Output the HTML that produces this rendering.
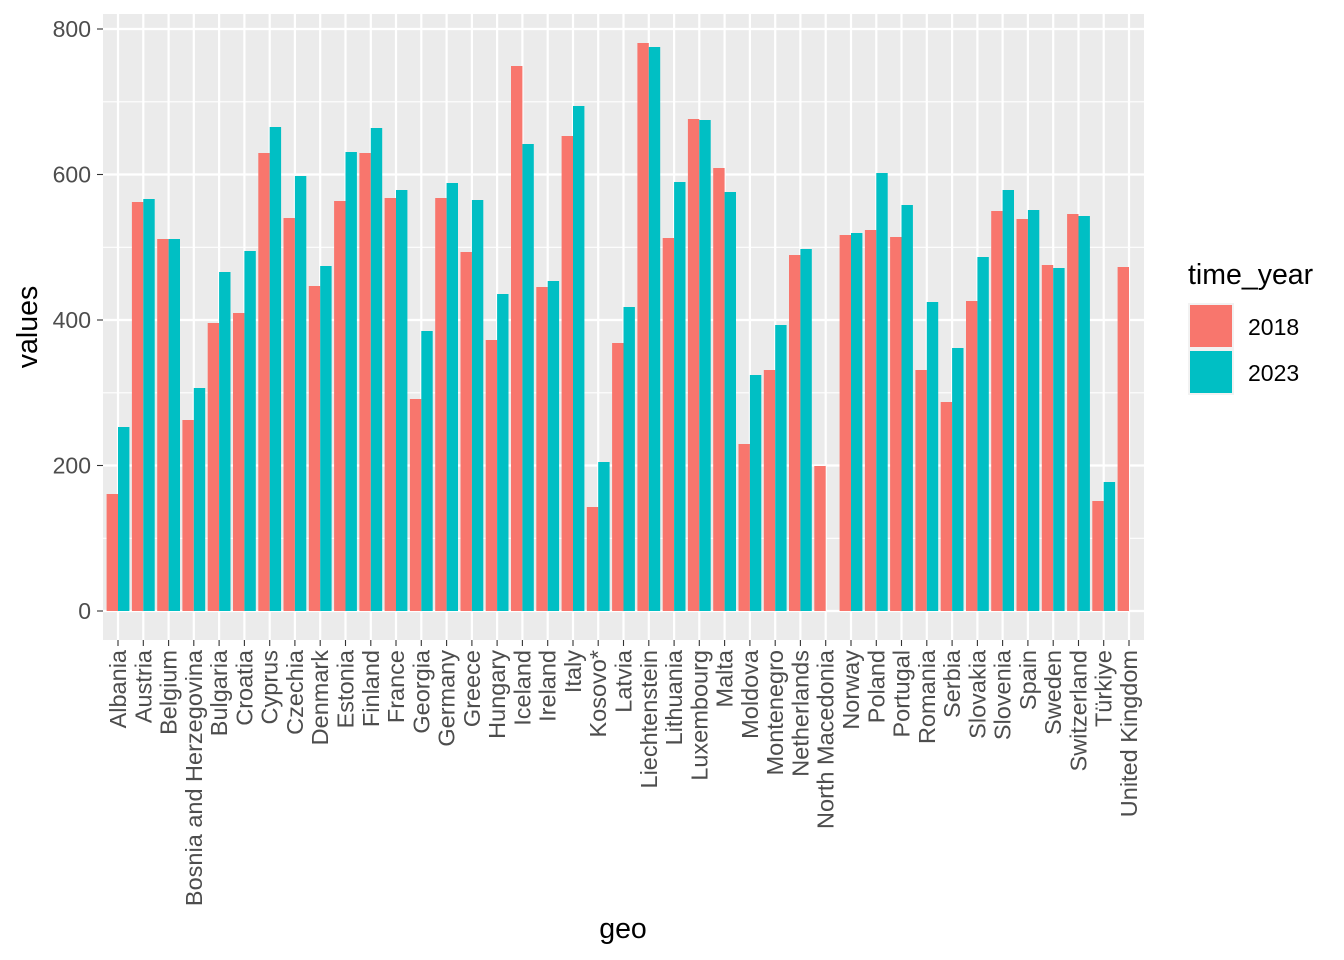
<!DOCTYPE html>
<html><head><meta charset="utf-8"><style>body{margin:0;background:#fff}svg{display:block}text{font-family:"Liberation Sans",Arial,sans-serif}</style></head><body>
<svg width="1344" height="960" viewBox="0 0 1344 960">
<rect x="103" y="14" width="1041" height="626" fill="#ebebeb"/>
<g stroke="#fff" stroke-width="1.1">
<line x1="103" x2="1144" y1="538.3" y2="538.3"/><line x1="103" x2="1144" y1="392.8" y2="392.8"/><line x1="103" x2="1144" y1="247.3" y2="247.3"/><line x1="103" x2="1144" y1="101.8" y2="101.8"/>
</g>
<g stroke="#fff" stroke-width="2.2">
<line x1="103" x2="1144" y1="611" y2="611"/><line x1="103" x2="1144" y1="465.5" y2="465.5"/><line x1="103" x2="1144" y1="320" y2="320"/><line x1="103" x2="1144" y1="174.5" y2="174.5"/><line x1="103" x2="1144" y1="29" y2="29"/>
</g>
<g stroke="#fff" stroke-width="2.2">
<line x1="118" x2="118" y1="14" y2="640"/><line x1="143.3" x2="143.3" y1="14" y2="640"/><line x1="168.6" x2="168.6" y1="14" y2="640"/><line x1="193.8" x2="193.8" y1="14" y2="640"/><line x1="219.1" x2="219.1" y1="14" y2="640"/><line x1="244.4" x2="244.4" y1="14" y2="640"/><line x1="269.7" x2="269.7" y1="14" y2="640"/><line x1="294.9" x2="294.9" y1="14" y2="640"/><line x1="320.2" x2="320.2" y1="14" y2="640"/><line x1="345.5" x2="345.5" y1="14" y2="640"/><line x1="370.8" x2="370.8" y1="14" y2="640"/><line x1="396" x2="396" y1="14" y2="640"/><line x1="421.3" x2="421.3" y1="14" y2="640"/><line x1="446.6" x2="446.6" y1="14" y2="640"/><line x1="471.9" x2="471.9" y1="14" y2="640"/><line x1="497.1" x2="497.1" y1="14" y2="640"/><line x1="522.4" x2="522.4" y1="14" y2="640"/><line x1="547.7" x2="547.7" y1="14" y2="640"/><line x1="573" x2="573" y1="14" y2="640"/><line x1="598.2" x2="598.2" y1="14" y2="640"/><line x1="623.5" x2="623.5" y1="14" y2="640"/><line x1="648.8" x2="648.8" y1="14" y2="640"/><line x1="674.1" x2="674.1" y1="14" y2="640"/><line x1="699.3" x2="699.3" y1="14" y2="640"/><line x1="724.6" x2="724.6" y1="14" y2="640"/><line x1="749.9" x2="749.9" y1="14" y2="640"/><line x1="775.2" x2="775.2" y1="14" y2="640"/><line x1="800.4" x2="800.4" y1="14" y2="640"/><line x1="825.7" x2="825.7" y1="14" y2="640"/><line x1="851" x2="851" y1="14" y2="640"/><line x1="876.3" x2="876.3" y1="14" y2="640"/><line x1="901.5" x2="901.5" y1="14" y2="640"/><line x1="926.8" x2="926.8" y1="14" y2="640"/><line x1="952.1" x2="952.1" y1="14" y2="640"/><line x1="977.4" x2="977.4" y1="14" y2="640"/><line x1="1002.6" x2="1002.6" y1="14" y2="640"/><line x1="1027.9" x2="1027.9" y1="14" y2="640"/><line x1="1053.2" x2="1053.2" y1="14" y2="640"/><line x1="1078.5" x2="1078.5" y1="14" y2="640"/><line x1="1103.7" x2="1103.7" y1="14" y2="640"/><line x1="1129" x2="1129" y1="14" y2="640"/>
</g>
<g>
<g transform="translate(118,0)"><rect x="-11.4" y="494" width="11.4" height="117" fill="#f8766d"/><rect x="0" y="427" width="11.4" height="184" fill="#00bfc4"/></g>
<g transform="translate(143.3,0)"><rect x="-11.4" y="202" width="11.4" height="409" fill="#f8766d"/><rect x="0" y="199" width="11.4" height="412" fill="#00bfc4"/></g>
<g transform="translate(168.6,0)"><rect x="-11.4" y="239" width="11.4" height="372" fill="#f8766d"/><rect x="0" y="239" width="11.4" height="372" fill="#00bfc4"/></g>
<g transform="translate(193.8,0)"><rect x="-11.4" y="420" width="11.4" height="191" fill="#f8766d"/><rect x="0" y="388" width="11.4" height="223" fill="#00bfc4"/></g>
<g transform="translate(219.1,0)"><rect x="-11.4" y="323" width="11.4" height="288" fill="#f8766d"/><rect x="0" y="272" width="11.4" height="339" fill="#00bfc4"/></g>
<g transform="translate(244.4,0)"><rect x="-11.4" y="313" width="11.4" height="298" fill="#f8766d"/><rect x="0" y="251" width="11.4" height="360" fill="#00bfc4"/></g>
<g transform="translate(269.7,0)"><rect x="-11.4" y="153" width="11.4" height="458" fill="#f8766d"/><rect x="0" y="127" width="11.4" height="484" fill="#00bfc4"/></g>
<g transform="translate(294.9,0)"><rect x="-11.4" y="218" width="11.4" height="393" fill="#f8766d"/><rect x="0" y="176" width="11.4" height="435" fill="#00bfc4"/></g>
<g transform="translate(320.2,0)"><rect x="-11.4" y="286" width="11.4" height="325" fill="#f8766d"/><rect x="0" y="266" width="11.4" height="345" fill="#00bfc4"/></g>
<g transform="translate(345.5,0)"><rect x="-11.4" y="201" width="11.4" height="410" fill="#f8766d"/><rect x="0" y="152" width="11.4" height="459" fill="#00bfc4"/></g>
<g transform="translate(370.8,0)"><rect x="-11.4" y="153" width="11.4" height="458" fill="#f8766d"/><rect x="0" y="128" width="11.4" height="483" fill="#00bfc4"/></g>
<g transform="translate(396,0)"><rect x="-11.4" y="198" width="11.4" height="413" fill="#f8766d"/><rect x="0" y="190" width="11.4" height="421" fill="#00bfc4"/></g>
<g transform="translate(421.3,0)"><rect x="-11.4" y="399" width="11.4" height="212" fill="#f8766d"/><rect x="0" y="331" width="11.4" height="280" fill="#00bfc4"/></g>
<g transform="translate(446.6,0)"><rect x="-11.4" y="198" width="11.4" height="413" fill="#f8766d"/><rect x="0" y="183" width="11.4" height="428" fill="#00bfc4"/></g>
<g transform="translate(471.9,0)"><rect x="-11.4" y="252" width="11.4" height="359" fill="#f8766d"/><rect x="0" y="200" width="11.4" height="411" fill="#00bfc4"/></g>
<g transform="translate(497.1,0)"><rect x="-11.4" y="340" width="11.4" height="271" fill="#f8766d"/><rect x="0" y="294" width="11.4" height="317" fill="#00bfc4"/></g>
<g transform="translate(522.4,0)"><rect x="-11.4" y="66" width="11.4" height="545" fill="#f8766d"/><rect x="0" y="144" width="11.4" height="467" fill="#00bfc4"/></g>
<g transform="translate(547.7,0)"><rect x="-11.4" y="287" width="11.4" height="324" fill="#f8766d"/><rect x="0" y="281" width="11.4" height="330" fill="#00bfc4"/></g>
<g transform="translate(573,0)"><rect x="-11.4" y="136" width="11.4" height="475" fill="#f8766d"/><rect x="0" y="106" width="11.4" height="505" fill="#00bfc4"/></g>
<g transform="translate(598.2,0)"><rect x="-11.4" y="507" width="11.4" height="104" fill="#f8766d"/><rect x="0" y="462" width="11.4" height="149" fill="#00bfc4"/></g>
<g transform="translate(623.5,0)"><rect x="-11.4" y="343" width="11.4" height="268" fill="#f8766d"/><rect x="0" y="307" width="11.4" height="304" fill="#00bfc4"/></g>
<g transform="translate(648.8,0)"><rect x="-11.4" y="43" width="11.4" height="568" fill="#f8766d"/><rect x="0" y="47" width="11.4" height="564" fill="#00bfc4"/></g>
<g transform="translate(674.1,0)"><rect x="-11.4" y="238" width="11.4" height="373" fill="#f8766d"/><rect x="0" y="182" width="11.4" height="429" fill="#00bfc4"/></g>
<g transform="translate(699.3,0)"><rect x="-11.4" y="119" width="11.4" height="492" fill="#f8766d"/><rect x="0" y="120" width="11.4" height="491" fill="#00bfc4"/></g>
<g transform="translate(724.6,0)"><rect x="-11.4" y="168" width="11.4" height="443" fill="#f8766d"/><rect x="0" y="192" width="11.4" height="419" fill="#00bfc4"/></g>
<g transform="translate(749.9,0)"><rect x="-11.4" y="444" width="11.4" height="167" fill="#f8766d"/><rect x="0" y="375" width="11.4" height="236" fill="#00bfc4"/></g>
<g transform="translate(775.2,0)"><rect x="-11.4" y="370" width="11.4" height="241" fill="#f8766d"/><rect x="0" y="325" width="11.4" height="286" fill="#00bfc4"/></g>
<g transform="translate(800.4,0)"><rect x="-11.4" y="255" width="11.4" height="356" fill="#f8766d"/><rect x="0" y="249" width="11.4" height="362" fill="#00bfc4"/></g>
<g transform="translate(825.7,0)"><rect x="-11.4" y="466" width="11.4" height="145" fill="#f8766d"/></g>
<g transform="translate(851,0)"><rect x="-11.4" y="235" width="11.4" height="376" fill="#f8766d"/><rect x="0" y="233" width="11.4" height="378" fill="#00bfc4"/></g>
<g transform="translate(876.3,0)"><rect x="-11.4" y="230" width="11.4" height="381" fill="#f8766d"/><rect x="0" y="173" width="11.4" height="438" fill="#00bfc4"/></g>
<g transform="translate(901.5,0)"><rect x="-11.4" y="237" width="11.4" height="374" fill="#f8766d"/><rect x="0" y="205" width="11.4" height="406" fill="#00bfc4"/></g>
<g transform="translate(926.8,0)"><rect x="-11.4" y="370" width="11.4" height="241" fill="#f8766d"/><rect x="0" y="302" width="11.4" height="309" fill="#00bfc4"/></g>
<g transform="translate(952.1,0)"><rect x="-11.4" y="402" width="11.4" height="209" fill="#f8766d"/><rect x="0" y="348" width="11.4" height="263" fill="#00bfc4"/></g>
<g transform="translate(977.4,0)"><rect x="-11.4" y="301" width="11.4" height="310" fill="#f8766d"/><rect x="0" y="257" width="11.4" height="354" fill="#00bfc4"/></g>
<g transform="translate(1002.6,0)"><rect x="-11.4" y="211" width="11.4" height="400" fill="#f8766d"/><rect x="0" y="190" width="11.4" height="421" fill="#00bfc4"/></g>
<g transform="translate(1027.9,0)"><rect x="-11.4" y="219" width="11.4" height="392" fill="#f8766d"/><rect x="0" y="210" width="11.4" height="401" fill="#00bfc4"/></g>
<g transform="translate(1053.2,0)"><rect x="-11.4" y="265" width="11.4" height="346" fill="#f8766d"/><rect x="0" y="268" width="11.4" height="343" fill="#00bfc4"/></g>
<g transform="translate(1078.5,0)"><rect x="-11.4" y="214" width="11.4" height="397" fill="#f8766d"/><rect x="0" y="216" width="11.4" height="395" fill="#00bfc4"/></g>
<g transform="translate(1103.7,0)"><rect x="-11.4" y="501" width="11.4" height="110" fill="#f8766d"/><rect x="0" y="482" width="11.4" height="129" fill="#00bfc4"/></g>
<g transform="translate(1129,0)"><rect x="-11.4" y="267" width="11.4" height="344" fill="#f8766d"/></g>
</g>
<g stroke="#333" stroke-width="1.1">
<line x1="97" x2="103" y1="611" y2="611"/><line x1="97" x2="103" y1="465.5" y2="465.5"/><line x1="97" x2="103" y1="320" y2="320"/><line x1="97" x2="103" y1="174.5" y2="174.5"/><line x1="97" x2="103" y1="29" y2="29"/>
</g>
<g font-size="23" fill="#4d4d4d" text-anchor="end">
<text x="91" y="619">0</text><text x="91" y="473.5">200</text><text x="91" y="328">400</text><text x="91" y="182.5">600</text><text x="91" y="37">800</text>
</g>
<g font-size="23.5" fill="#4d4d4d" text-anchor="end">
<text transform="translate(126,650) rotate(-90)">Albania</text>
<text transform="translate(151.3,650) rotate(-90)">Austria</text>
<text transform="translate(176.6,650) rotate(-90)">Belgium</text>
<text transform="translate(201.8,650) rotate(-90)">Bosnia and Herzegovina</text>
<text transform="translate(227.1,650) rotate(-90)">Bulgaria</text>
<text transform="translate(252.4,650) rotate(-90)">Croatia</text>
<text transform="translate(277.7,650) rotate(-90)">Cyprus</text>
<text transform="translate(302.9,650) rotate(-90)">Czechia</text>
<text transform="translate(328.2,650) rotate(-90)">Denmark</text>
<text transform="translate(353.5,650) rotate(-90)">Estonia</text>
<text transform="translate(378.8,650) rotate(-90)">Finland</text>
<text transform="translate(404,650) rotate(-90)">France</text>
<text transform="translate(429.3,650) rotate(-90)">Georgia</text>
<text transform="translate(454.6,650) rotate(-90)">Germany</text>
<text transform="translate(479.9,650) rotate(-90)">Greece</text>
<text transform="translate(505.1,650) rotate(-90)">Hungary</text>
<text transform="translate(530.4,650) rotate(-90)">Iceland</text>
<text transform="translate(555.7,650) rotate(-90)">Ireland</text>
<text transform="translate(581,650) rotate(-90)">Italy</text>
<text transform="translate(606.2,650) rotate(-90)">Kosovo*</text>
<text transform="translate(631.5,650) rotate(-90)">Latvia</text>
<text transform="translate(656.8,650) rotate(-90)">Liechtenstein</text>
<text transform="translate(682.1,650) rotate(-90)">Lithuania</text>
<text transform="translate(707.3,650) rotate(-90)">Luxembourg</text>
<text transform="translate(732.6,650) rotate(-90)">Malta</text>
<text transform="translate(757.9,650) rotate(-90)">Moldova</text>
<text transform="translate(783.2,650) rotate(-90)">Montenegro</text>
<text transform="translate(808.4,650) rotate(-90)">Netherlands</text>
<text transform="translate(833.7,650) rotate(-90)">North Macedonia</text>
<text transform="translate(859,650) rotate(-90)">Norway</text>
<text transform="translate(884.3,650) rotate(-90)">Poland</text>
<text transform="translate(909.5,650) rotate(-90)">Portugal</text>
<text transform="translate(934.8,650) rotate(-90)">Romania</text>
<text transform="translate(960.1,650) rotate(-90)">Serbia</text>
<text transform="translate(985.4,650) rotate(-90)">Slovakia</text>
<text transform="translate(1010.6,650) rotate(-90)">Slovenia</text>
<text transform="translate(1035.9,650) rotate(-90)">Spain</text>
<text transform="translate(1061.2,650) rotate(-90)">Sweden</text>
<text transform="translate(1086.5,650) rotate(-90)">Switzerland</text>
<text transform="translate(1111.7,650) rotate(-90)">Türkiye</text>
<text transform="translate(1137,650) rotate(-90)">United Kingdom</text>
</g>
<g stroke="#333" stroke-width="1.1">
<line x1="118" x2="118" y1="640" y2="646"/><line x1="143.3" x2="143.3" y1="640" y2="646"/><line x1="168.6" x2="168.6" y1="640" y2="646"/><line x1="193.8" x2="193.8" y1="640" y2="646"/><line x1="219.1" x2="219.1" y1="640" y2="646"/><line x1="244.4" x2="244.4" y1="640" y2="646"/><line x1="269.7" x2="269.7" y1="640" y2="646"/><line x1="294.9" x2="294.9" y1="640" y2="646"/><line x1="320.2" x2="320.2" y1="640" y2="646"/><line x1="345.5" x2="345.5" y1="640" y2="646"/><line x1="370.8" x2="370.8" y1="640" y2="646"/><line x1="396" x2="396" y1="640" y2="646"/><line x1="421.3" x2="421.3" y1="640" y2="646"/><line x1="446.6" x2="446.6" y1="640" y2="646"/><line x1="471.9" x2="471.9" y1="640" y2="646"/><line x1="497.1" x2="497.1" y1="640" y2="646"/><line x1="522.4" x2="522.4" y1="640" y2="646"/><line x1="547.7" x2="547.7" y1="640" y2="646"/><line x1="573" x2="573" y1="640" y2="646"/><line x1="598.2" x2="598.2" y1="640" y2="646"/><line x1="623.5" x2="623.5" y1="640" y2="646"/><line x1="648.8" x2="648.8" y1="640" y2="646"/><line x1="674.1" x2="674.1" y1="640" y2="646"/><line x1="699.3" x2="699.3" y1="640" y2="646"/><line x1="724.6" x2="724.6" y1="640" y2="646"/><line x1="749.9" x2="749.9" y1="640" y2="646"/><line x1="775.2" x2="775.2" y1="640" y2="646"/><line x1="800.4" x2="800.4" y1="640" y2="646"/><line x1="825.7" x2="825.7" y1="640" y2="646"/><line x1="851" x2="851" y1="640" y2="646"/><line x1="876.3" x2="876.3" y1="640" y2="646"/><line x1="901.5" x2="901.5" y1="640" y2="646"/><line x1="926.8" x2="926.8" y1="640" y2="646"/><line x1="952.1" x2="952.1" y1="640" y2="646"/><line x1="977.4" x2="977.4" y1="640" y2="646"/><line x1="1002.6" x2="1002.6" y1="640" y2="646"/><line x1="1027.9" x2="1027.9" y1="640" y2="646"/><line x1="1053.2" x2="1053.2" y1="640" y2="646"/><line x1="1078.5" x2="1078.5" y1="640" y2="646"/><line x1="1103.7" x2="1103.7" y1="640" y2="646"/><line x1="1129" x2="1129" y1="640" y2="646"/>
</g>
<text x="623" y="938" font-size="28.5" text-anchor="middle" fill="#000">geo</text>
<text transform="translate(37,327) rotate(-90)" font-size="28.5" text-anchor="middle" fill="#000">values</text>
<text x="1188" y="284" font-size="28.5" fill="#000">time_year</text>
<rect x="1188" y="303" width="46" height="46" fill="#f2f2f2"/>
<rect x="1190" y="305" width="42" height="42" fill="#f8766d"/>
<rect x="1188" y="349" width="46" height="46" fill="#f2f2f2"/>
<rect x="1190" y="351" width="42" height="42" fill="#00bfc4"/>
<text x="1248" y="335" font-size="23" fill="#000">2018</text>
<text x="1248" y="381" font-size="23" fill="#000">2023</text>
</svg>
</body></html>
